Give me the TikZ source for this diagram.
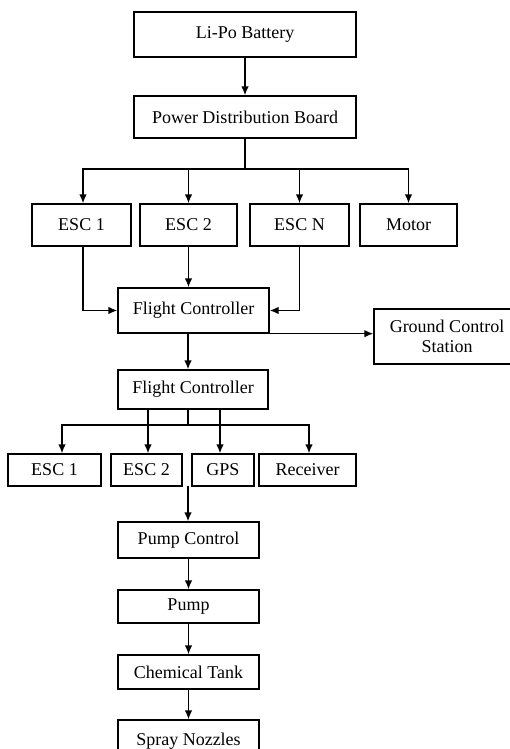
\documentclass[tikz,border=0pt]{standalone}
\usepackage{fontspec}
\setmainfont{Liberation Serif}
\usetikzlibrary{arrows.meta}

\begin{document}
\begin{tikzpicture}[x = 1pt, y = -1pt, line width = 1.5pt, >={Latex[length=9pt,width=7.5pt]}]
\tikzstyle{block} = [shape = rectangle, draw, line width = 1.3pt, inner sep = 0pt, minimum height = 40pt, font = \fontsize{18}{19.5}\selectfont, align = center]
\useasboundingbox (0, 0) rectangle (509, 749);
% power side
\node[block] (bat) at (245, 34.5) [minimum width = 222pt, minimum height = 45pt] {Li-Po Battery};
\node[block] (pdb) at (245, 117) [minimum width = 222pt, minimum height = 42pt] {Power Distribution Board};
\node[block] (esc-1) at (81.5, 225) [minimum width = 99pt, minimum height = 42pt] {ESC 1};
\node[block] (esc-2) at (188.5, 225) [minimum width = 97pt, minimum height = 42pt] {ESC 2};
\node[block] (esc-n) at (299.5, 225) [minimum width = 99pt, minimum height = 42pt] {ESC N};
\node[block] (mot) at (408.5, 225) [minimum width = 97pt, minimum height = 42pt] {Motor};
\node[block] (fc-1) at (193.5, 310.5) [minimum width = 151pt, minimum height = 45pt] {Flight Controller};
\node[block] (gcs) at (447, 336.5) [minimum width = 146pt, minimum height = 55pt] {Ground Control\\Station};
% control side
\node[block] (fc-2) at (193, 389.5) [minimum width = 150pt, minimum height = 39pt] {Flight Controller};
\node[block] (esc--1) at (54.5, 470) [minimum width = 93pt, minimum height = 32pt] {ESC 1};
\node[block] (esc--2) at (146.5, 470) [minimum width = 71pt, minimum height = 32pt] {ESC 2};
\node[block] (gps) at (223, 470) [minimum width = 62pt, minimum height = 32pt] {GPS};
\node[block] (rcv) at (307.5, 470) [minimum width = 97pt, minimum height = 32pt] {Receiver};
% spraying side
\node[block] (pc) at (188.5, 540) [minimum width = 141pt, minimum height = 36pt] {Pump Control};
\node[block] (pump) at (188.5, 606.5) [minimum width = 141pt, minimum height = 33pt] {Pump};
\node[block] (tank) at (188.5, 672) [minimum width = 141pt, minimum height = 34pt] {Chemical Tank};
\node[block] (spray) at (188.5, 741) [minimum width = 141pt, minimum height = 42pt] {Spray Nozzles};
\coordinate (bus-1) at (245, 169);
\coordinate (bus-2) at (188, 425);
\coordinate (gap) at (188, 486);
\draw[->] (bat) -- (pdb);
\draw (pdb.south) -- (bus-1);
\draw[->] (bus-1) -| ([xshift = 1.5pt]esc-1.north);
\draw[->] (bus-1) -| (esc-2.north);
\draw[->] (bus-1) -| (esc-n.north);
\draw[->] (bus-1) -| (mot.north);
\draw[->] ([xshift = 1.5pt]esc-1.south) |- (fc-1.west);
\draw[->] (esc-2.south) -- (esc-2.south |- fc-1.north);
\draw[->] (esc-n.south) |- (fc-1.east);
\draw[->] (fc-1.south east) -- (fc-1.south east -| gcs.west);
\draw[->] (fc-1.south -| bus-2) -- (fc-2.north -| bus-2);
\draw (fc-2.south -| bus-2) -- (bus-2);
\draw[->] (bus-2) -| ([xshift = 7.5pt]esc--1.north);
\draw[->] (bus-2) -| ([xshift = 1.5pt]rcv.north);
\draw[->] ([xshift = 1.5pt]fc-2.south -| esc--2) -- ([xshift = 1.5pt]esc--2.north);
\draw[->] ([xshift = -3pt]fc-2.south -| gps) -- ([xshift = -3pt]gps.north);
\draw[->] (gap) -- (gap |- pc.north);
\draw[->] (pc) -- (pump);
\draw[->] (pump) -- (tank);
\draw[->] (tank) -- (spray);
\end{tikzpicture}
\end{document}
